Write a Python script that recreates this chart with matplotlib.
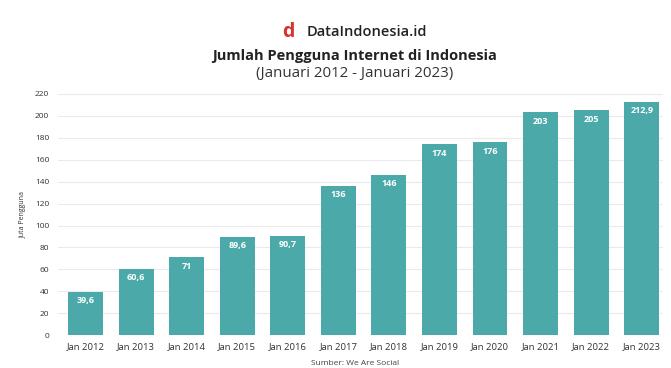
import matplotlib
matplotlib.use("Agg")
import matplotlib.pyplot as plt

categories = ["Jan 2012", "Jan 2013", "Jan 2014", "Jan 2015", "Jan 2016", "Jan 2017",
              "Jan 2018", "Jan 2019", "Jan 2020", "Jan 2021", "Jan 2022", "Jan 2023"]
values = [39.6, 60.6, 71, 89.6, 90.7, 136, 146, 174, 176, 203, 205, 212.9]
labels = ["39,6", "60,6", "71", "89,6", "90,7", "136", "146", "174", "176", "203", "205", "212,9"]
yticks = [0, 20, 40, 60, 80, 100, 120, 140, 160, 180, 200, 220]

plt.rcParams['font.family'] = ['Open Sans', 'DejaVu Sans']

fig = plt.figure(figsize=(6.71, 3.68), dpi=100)
fig.patch.set_facecolor("white")
ax = fig.add_axes([0.086, 0.089, 0.902, 0.656])

x = range(len(categories))
color = "#4BA9A9"
ax.bar(x, values, width=0.69, color=color, zorder=3)
for xi, v, lab in zip(x, values, labels):
    ax.text(xi, v - 4, lab, ha="center", va="top", color="white",
            fontsize=6.5, fontweight="bold", zorder=4)

ax.set_xlim(-0.55, 11.42)
ax.set_ylim(0, 220)
ax.set_yticks(yticks)
ax.set_xticks(list(x))
ax.set_xticklabels(categories)
ax.tick_params(axis="both", length=0, labelsize=6, colors="#333333")
ax.tick_params(axis="x", pad=5, labelsize=6.8)
ax.tick_params(axis="y", pad=6)
ax.grid(axis="y", color="#EAEAEA", linewidth=0.8, zorder=0)
for s in ax.spines.values():
    s.set_visible(False)
ax.set_ylabel("Juta Pengguna", fontsize=5, color="#333333", labelpad=6)

fig.text(0.430, 0.913, "d", color="#D9322B", fontsize=14, fontweight="bold",
         ha="center", va="center")
fig.text(0.457, 0.913, "DataIndonesia.id", color="#222222", fontsize=10.5,
         fontweight="semibold", ha="left", va="center")
fig.text(0.529, 0.848, "Jumlah Pengguna Internet di Indonesia", color="#222222",
         fontsize=10.5, fontweight="bold", ha="center", va="center")
fig.text(0.529, 0.800, "(Januari 2012 - Januari 2023)", color="#333333",
         fontsize=10.8, ha="center", va="center")
fig.text(0.529, 0.013, "Sumber: We Are Social", color="#444444",
         fontsize=6, ha="center", va="center")

fig.savefig("out.png", dpi=100, facecolor="white")
